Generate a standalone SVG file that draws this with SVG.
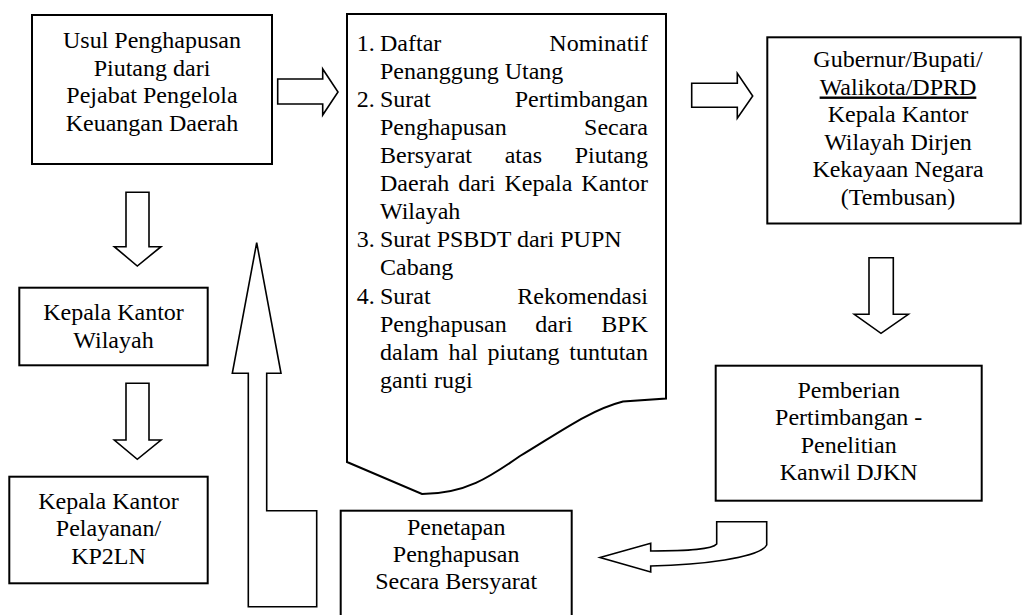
<svg xmlns="http://www.w3.org/2000/svg" width="1022" height="615" viewBox="0 0 1022 615">
<style>
.box{fill:#fff;stroke:#000;stroke-width:2}
.arr{fill:#fff;stroke:#000;stroke-width:1.6;stroke-linejoin:miter}
text{font-family:'Liberation Serif','Times New Roman',Times,serif;font-size:24px;fill:#000}
.c{text-anchor:middle}
.e{text-anchor:end}
</style>
<rect width="1022" height="615" fill="#fff"/>
<g id="connectors">
<path class="arr" d="M277.7,79 L322.7,79 L322.7,69 L338,92 L322.7,115 L322.7,104 L277.7,104 Z"/>
<path class="arr" d="M691.7,83.3 L737.3,83.3 L737.3,73.3 L752.7,96 L737.3,118.3 L737.3,107.3 L691.7,107.3 Z"/>
<path class="arr" d="M126,192.3 L149,192.3 L149,246.7 L161,246.7 L137.3,266 L114.3,246.7 L126,246.7 Z"/>
<path class="arr" d="M126,383.3 L149,383.3 L149,440 L161,440 L137.3,459.3 L114.3,440 L126,440 Z"/>
<path class="arr" d="M869,257.7 L893.3,257.7 L893.3,314.3 L908.3,314.3 L881,333.3 L854.3,314.3 L869,314.3 Z"/>
<path class="arr" d="M248.3,606.7 L316.7,606.7 L316.7,510.7 L266.7,510.7 L266.7,373.3 L281,373.3 L256.7,242.7 L232.3,373.3 L248.3,373.3 Z"/>
<path class="arr" d="M600,557.5 L650.7,543.3 L650.7,551 C 690,551 712,549.5 716.7,544 L716.7,521.7 L766.7,521.7 L766.7,545 C 760,558 700,565 650.7,566 L650.7,572 Z"/>
</g>
<g id="usul">
<rect class="box" x="32" y="15" width="240" height="149"/>
<text class="c" x="152" y="48">Usul Penghapusan</text>
<text class="c" x="152" y="75.5">Piutang dari</text>
<text class="c" x="152" y="103">Pejabat Pengelola</text>
<text class="c" x="152" y="130.5">Keuangan Daerah</text>
</g>
<g id="dokumen">
<path class="box" d="M347,14 L666,14 L666,398.5 L623,401.5 C590,410 560,432 520,456 C490,477 465,494 422,494 L347,462 Z"/>
<text x="356.7" y="50.5">1.</text>
<text x="380" y="50.5">Daftar</text><text class="e" x="648" y="50.5">Nominatif</text>
<text x="380" y="78.5">Penanggung Utang</text>
<text x="356.7" y="106.5">2.</text>
<text x="380" y="106.5">Surat</text><text class="e" x="648" y="106.5">Pertimbangan</text>
<text x="380" y="134.5">Penghapusan</text><text class="e" x="648" y="134.5">Secara</text>
<text x="380" y="162.5">Bersyarat</text><text x="504.7" y="162.5">atas</text><text class="e" x="648" y="162.5">Piutang</text>
<text x="380" y="190.5">Daerah</text><text x="458.2" y="190.5">dari</text><text x="504.4" y="190.5">Kepala</text><text class="e" x="648" y="190.5">Kantor</text>
<text x="380" y="218.5">Wilayah</text>
<text x="356.7" y="246.5">3.</text>
<text x="380" y="246.5">Surat PSBDT dari PUPN</text>
<text x="380" y="274.5">Cabang</text>
<text x="356.7" y="304">4.</text>
<text x="380" y="304">Surat</text><text class="e" x="648" y="304">Rekomendasi</text>
<text x="380" y="332">Penghapusan</text><text x="535.3" y="332">dari</text><text class="e" x="648" y="332">BPK</text>
<text x="380" y="360">dalam</text><text x="448.5" y="360">hal</text><text x="487.6" y="360">piutang</text><text class="e" x="648" y="360">tuntutan</text>
<text x="380" y="388">ganti rugi</text>
</g>
<g id="gubernur">
<rect class="box" x="767.3" y="37.3" width="253.4" height="186.2"/>
<text class="c" x="898" y="67">Gubernur/Bupati/</text>
<text class="c" x="898" y="94.5" text-decoration="underline">Walikota/DPRD</text>
<text class="c" x="898" y="122">Kepala Kantor</text>
<text class="c" x="898" y="149.5">Wilayah Dirjen</text>
<text class="c" x="898" y="177">Kekayaan Negara</text>
<text class="c" x="898" y="204.5">(Tembusan)</text>
</g>
<g id="kepala-wilayah">
<rect class="box" x="19.3" y="287.7" width="188.4" height="77.6"/>
<text class="c" x="113.5" y="320">Kepala Kantor</text>
<text class="c" x="113.5" y="347.5">Wilayah</text>
</g>
<g id="kepala-pelayanan">
<rect class="box" x="9.3" y="476.7" width="198.4" height="106.6"/>
<text class="c" x="108.5" y="508.5">Kepala Kantor</text>
<text class="c" x="108.5" y="536">Pelayanan/</text>
<text class="c" x="108.5" y="563.5">KP2LN</text>
</g>
<g id="pemberian">
<rect class="box" x="715.7" y="365.7" width="266" height="135"/>
<text class="c" x="848.7" y="397.5">Pemberian</text>
<text class="c" x="848.7" y="425">Pertimbangan -</text>
<text class="c" x="848.7" y="452.5">Penelitian</text>
<text class="c" x="848.7" y="480">Kanwil DJKN</text>
</g>
<g id="penetapan">
<rect class="box" x="340.7" y="510.7" width="231" height="130"/>
<text class="c" x="456.2" y="535">Penetapan</text>
<text class="c" x="456.2" y="562">Penghapusan</text>
<text class="c" x="456.2" y="589">Secara Bersyarat</text>
</g>
</svg>
